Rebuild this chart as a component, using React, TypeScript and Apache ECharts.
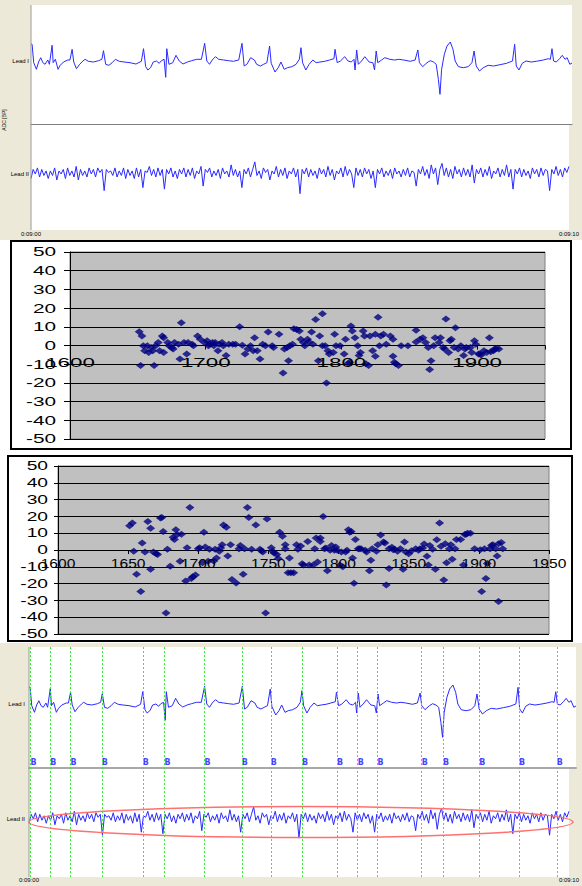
import React, { useEffect, useRef } from 'react';
import * as echarts from 'echarts';

// ---------- data ----------
const timeLabels = ['0:09:00', '0:09:10'];
const leadNames = ['Lead I', 'Lead II'];
const sideTitle = 'ADC [BP]';

// Lead I: [seconds, amplitude]
const leadI: number[][] = [
  [0, 17], [0.02, 16.7], [0.05, -1.7], [0.1, -8.3], [0.14, -1], [0.18, 3.3], [0.22, -1.7], [0.26, -3.3], [0.31, 1], [0.34, -3.3],
  [0.39, 15.7], [0.41, -1.7], [0.45, 1.7], [0.5, -8.3], [0.54, -4.3], [0.6, -1], [0.68, 1], [0.72, 1], [0.76, 11.7], [0.79, -1],
  [0.84, -7.7], [0.9, -3.3], [0.96, 0], [1.0, 1.7], [1.06, -0.3], [1.15, -1], [1.25, 0.3], [1.31, 1.7], [1.34, 10.3], [1.38, -3.3],
  [1.44, -4.3], [1.5, -1.7], [1.56, 1.7], [1.63, -0.3], [1.72, -1], [1.83, -1.7], [1.94, -3], [2.04, -0.3], [2.08, 12.3], [2.12, -5.7],
  [2.16, -9], [2.21, -6.7], [2.26, -1], [2.32, 0], [2.37, -2.3], [2.41, 0.3], [2.46, 1.7], [2.49, -16.3], [2.51, 12.3], [2.55, -3.3],
  [2.62, -1.7], [2.68, 5.7], [2.74, 0], [2.81, -3], [2.89, -1], [2.97, 0.3], [3.06, 1.7], [3.15, 1.7], [3.21, 17.7], [3.25, 0],
  [3.3, -3.3], [3.35, 1], [3.41, 4.3], [3.47, 1.7], [3.56, 1], [3.65, 0.3], [3.74, -0.3], [3.84, 1], [3.9, 17.7], [3.94, -5],
  [3.99, -3.3], [4.06, 3.3], [4.13, 1], [4.17, -3.3], [4.24, -5], [4.3, -3.3], [4.36, -1.7], [4.41, 15], [4.44, -2.3], [4.51, -11],
  [4.57, -6.7], [4.62, -1], [4.68, -8.3], [4.74, -6.7], [4.82, -5.7], [4.9, -3.3], [4.96, 1.7], [4.99, 13.3], [5.02, -1.7], [5.08, -9],
  [5.14, -3.3], [5.21, 1], [5.27, -1.7], [5.34, -1], [5.43, -0.3], [5.52, 1], [5.6, 2.3], [5.62, 11.7], [5.66, -1.7], [5.72, 0],
  [5.8, 4.3], [5.86, 0], [5.92, -1], [5.97, 1.7], [5.99, -9], [6.02, 11], [6.05, -3.3], [6.11, 0], [6.17, 4.3], [6.25, -1],
  [6.32, -1.7], [6.35, -9], [6.38, 10], [6.41, -1.7], [6.48, 1], [6.54, 3.3], [6.63, 1.7], [6.72, 1], [6.8, 1.7], [6.89, 1],
  [7.01, -0.3], [7.1, 1], [7.15, 11], [7.18, -1.7], [7.24, -5.7], [7.32, -1.7], [7.38, 0.3], [7.44, -1], [7.49, -3.3], [7.53, -18.3],
  [7.56, -33.3], [7.59, -8.3], [7.64, 6.7], [7.69, 15], [7.75, 19], [7.8, 11.7], [7.84, 0], [7.9, -5.7], [7.99, -6.7], [8.08, -5.7],
  [8.15, -1.7], [8.19, 10], [8.23, -5], [8.29, -10], [8.36, -6.7], [8.45, -4.3], [8.55, -5], [8.67, -3.7], [8.79, -2.3], [8.9, 0],
  [8.94, 16.7], [8.97, -5], [9.02, -9], [9.08, -2.3], [9.15, 0], [9.25, -1], [9.34, -0.3], [9.47, 1], [9.56, 2.3], [9.6, 1.7],
  [9.63, 12.3], [9.66, 0], [9.71, -1], [9.77, 2.3], [9.82, 5.7], [9.87, 1.7], [9.91, 3.3], [9.96, -3.3], [10, -2],
];

// Lead II: samples every 0.04 s
const leadIIStep = 0.04;
const leadIISamples: number[] = [
  -3, 3, 0, 4, -2, 3, -1, 2, -3, 2, -1, 4, -4, 2, 0, 3, -3, 4, -1, 2, -2, 5, -4, 3, -1,
  2, -2, 4, 0, 3, -2, 4, 1, 3, -11, 3, 1, 2, -1, 4, -2, 2, -1, 4, -3, 3, -1, 2, -3, 4,
  -2, 3, -9, 2, 1, 5, -1, 3, -2, 4, -1, 3, -10, 3, 0, 4, -2, 2, -3, 3, 0, 4, -2, 3, -1,
  4, -3, 2, 0, 5, -8, 3, 1, 4, -2, 2, -1, 3, -3, 4, 0, 2, -2, 6, -1, 3, -2, 2, -9, 3,
  0, 4, -2, 3, 8, -1, 2, -3, 4, 1, 3, -4, 2, 0, 5, -2, 3, -1, 4, -3, 2, 0, 4, -2, 3,
  -13, 3, 0, 4, -2, 3, -1, 2, -3, 4, 0, 3, -2, 5, -1, 3, -4, 2, 0, 4, -2, 5, -1, 3, 0,
  -9, 4, -1, 3, -2, 4, 0, 3, -3, 2, -9, 3, 0, 4, -2, 2, -1, 3, -3, 4, 0, 2, -2, 3, -1,
  4, -2, 2, 1, -8, 3, 0, 5, -1, 3, -3, 6, 0, 4, -7, 3, 7, -1, 4, -2, 3, -3, 5, 0, 3,
  -2, 4, -1, 3, -2, 6, -6, 3, 0, 4, -2, 3, -1, 5, -3, 2, 0, 4, -2, 3, -1, 6, -2, 3, -10,
  3, 0, 4, -2, 3, -1, 2, -3, 4, 0, 3, -2, 4, -1, 3, 2, -11, 3, 0, 5, -1, 3, -2, 4, 1, 5,
];

// Detected beats (seconds)
const beatTimes = [0.03, 0.39, 0.76, 1.33, 2.08, 2.48, 3.21, 3.89, 4.42, 4.99, 5.63, 6.01, 6.37, 7.18, 7.57, 8.23, 8.96, 9.65];
const beatLabel = 'B';

// Scatter plot A
const scatterA: number[][] = [
  [1651, 7.4], [1653, 5.1], [1652, -10.7], [1654, -0.2], [1655, -2.8], [1657, -0.2], [1658, -3.7], [1660, -1.1], [1661, -2.8], [1662, -10.7],
  [1663, -0.2], [1665, 1.6], [1666, -2.8], [1668, 5.1], [1669, 4.2], [1669, -3.7], [1672, 1.6], [1673, -0.2], [1675, -1.1], [1676, -1.9],
  [1677, 1.6], [1680, 0.7], [1682, 12.1], [1681, -7.2], [1684, 1.6], [1686, -4.6], [1687, 1.6], [1690, 0.7], [1691, -0.2], [1694, 5.1],
  [1696, 3.3], [1699, 1.6], [1701, 2.5], [1702, -0.2], [1703, 0.7], [1705, 1.6], [1706, -0.2], [1707, 1.6], [1709, -2.8], [1710, 0.7],
  [1712, 1.6], [1713, -0.2], [1715, -5.4], [1717, 0.7], [1720, 0.7], [1722, 0.7], [1725, 10], [1727, 0.2], [1729, -4.6], [1731, -1.9],
  [1733, -0.2], [1735, -2.8], [1736, 4.2], [1738, -2.8], [1740, -7.2], [1742, 0.7], [1744, -0.2], [1746, 7.2], [1749, -0.2], [1750, -1.1],
  [1754, 6], [1757, -14.7], [1758, -1.9], [1760, -1.1], [1761, -8.1], [1762, -0.2], [1764, 0.7], [1765, 8.9], [1767, 8.6], [1769, 7.7],
  [1770, 3.3], [1772, 1.6], [1773, -0.2], [1775, 3.3], [1776, 1.9], [1778, 7.2], [1779, 0.7], [1781, 13.9], [1783, -8.1], [1784, 5.1],
  [1786, -0.2], [1786, 17], [1788, -0.2], [1789, -20], [1790, -2.8], [1791, -4.6], [1794, -3.7], [1795, 6], [1796, -0.2], [1799, -0.2],
  [1802, -4.6], [1803, 3.3], [1805, -9.8], [1806, -8.9], [1807, 10.4], [1808, 7.7], [1810, 4.2], [1812, -0.2], [1813, -5.4], [1814, -3.7],
  [1816, 7.7], [1817, 5.1], [1818, -9.8], [1820, -10.7], [1821, 5.1], [1823, -2.8], [1825, -5.8], [1825, 6], [1827, 15.1], [1828, -0.2],
  [1829, 5.1], [1831, 6], [1833, 0.7], [1836, 5.1], [1838, 3.3], [1838, -5.8], [1839, -8.9], [1840, -9.8], [1842, -10.7], [1844, -0.2],
  [1849, -0.2], [1855, 8.1], [1855, 1.9], [1858, 3.3], [1860, 4.2], [1862, 1.6], [1864, -1.1], [1865, -12.8], [1866, -8.1], [1868, -0.2],
  [1869, 4.2], [1872, 1.6], [1873, 4.2], [1875, -1.1], [1876, -1.9], [1877, 14.2], [1879, -3.7], [1880, 2.5], [1881, 3.3], [1883, -1.1],
  [1884, 9.5], [1886, -1.9], [1888, -0.2], [1890, -5.4], [1891, -1.9], [1892, -1.1], [1895, -1.1], [1896, -3.7], [1898, 2.5], [1899, 0.7],
  [1901, -4.6], [1902, -4.6], [1903, -5.1], [1905, -2.8], [1907, -3.7], [1909, 4.2], [1910, -3.3], [1912, -2.8], [1913, -1.9], [1914, -1.6],
  [1916, -1.9],
];

// Scatter plot B
const scatterB: number[][] = [
  [1651, 14.5], [1653, 16.1], [1654, -0.8], [1656, -14.5], [1659, -24.7], [1660, 4.1], [1662, -1.2], [1664, 16.9], [1666, 12.9], [1666, -11.4],
  [1668, -1.2], [1670, -2.2], [1671, -2.7], [1673, 19], [1674, 19.4], [1675, 11], [1677, -37.5], [1678, 0.4], [1680, -9.6], [1682, 7.6],
  [1683, 6.3], [1684, 12], [1685, 9.2], [1687, -6.7], [1688, 9.4], [1691, -18.4], [1692, 1.4], [1694, 25.3], [1695, -16.9], [1696, -15.9],
  [1698, -14.9], [1700, 0.8], [1701, 1.4], [1703, -7.6], [1704, 10.6], [1705, 1.8], [1707, -6.7], [1708, 0.4], [1711, -6.5], [1712, 0.4],
  [1713, -4.7], [1715, -0.8], [1716, 1.2], [1717, 3.1], [1718, 14.9], [1720, 13.5], [1721, -3.5], [1723, 3.1], [1724, -17.5], [1727, -19.6],
  [1729, 0.8], [1730, 2.7], [1732, -14.5], [1733, 0.8], [1735, 25.3], [1736, 19.4], [1738, 0.4], [1741, 14.9], [1744, 0.4], [1745, -0.4],
  [1746, -1.2], [1748, -37.5], [1749, 18.4], [1752, 1.4], [1753, -0.8], [1754, -1.8], [1756, -2.7], [1757, -5.1], [1758, 10.6], [1760, 8.2],
  [1762, 0.8], [1762, 3.1], [1764, -13.5], [1765, -4.7], [1766, -13.5], [1768, -13.5], [1770, 3.1], [1771, 0.4], [1773, 2.4], [1774, -8.2],
  [1775, -9], [1778, 5.1], [1779, -9], [1782, -9], [1783, 0.8], [1784, 7.1], [1785, -7.1], [1787, 7.1], [1787, 5.1], [1789, 20],
  [1790, 0.8], [1791, 1.2], [1792, -12.4], [1794, -0.2], [1795, 2.7], [1797, -0.2], [1798, 1.8], [1799, -0.2], [1801, -9], [1802, -1.2],
  [1803, -10], [1805, -1.2], [1806, -0.2], [1807, 12], [1808, 10.6], [1809, 11], [1810, -4.7], [1811, -19.8], [1812, 6.3], [1814, 0.8],
  [1815, 0.8], [1816, 0.8], [1819, -0.2], [1820, -1.2], [1822, -12.4], [1823, -6.1], [1824, 0.8], [1827, -0.8], [1828, 3.1], [1830, 9],
  [1832, 4.7], [1833, 4.1], [1834, -20.8], [1836, -11], [1836, 0.8], [1838, 1.6], [1839, 0.2], [1840, 0.4], [1842, -0.8], [1844, 0.8],
  [1846, -11.4], [1847, 4.7], [1848, -1.2], [1850, -2.2], [1852, -0.4], [1855, 0.8], [1857, -0.2], [1858, 0.8], [1860, 1.2], [1861, 3.5],
  [1863, -3.7], [1864, -9], [1865, 2.7], [1867, 0.4], [1869, -11.4], [1870, 6.1], [1872, 16.1], [1873, 2.2], [1875, -17.8], [1876, 3.7],
  [1877, -7.6], [1879, 0.8], [1880, 3.1], [1881, -5.5], [1883, 0.8], [1884, 6.3], [1887, 6.3], [1889, -9], [1890, 9.2], [1891, 9.4],
  [1892, 10], [1894, 10], [1897, 0.8], [1901, 0.2], [1902, -24.7], [1904, 0.8], [1905, -16.9], [1906, -8], [1908, 0.8], [1909, 2.7],
  [1910, 3.1], [1912, 0.8], [1913, -3.5], [1914, -30.6], [1914, 3.7], [1916, 4.5], [1917, 0.8],
];

const scatterAXTicks = [1600, 1700, 1800, 1900];
const scatterBXTicks = [1600, 1650, 1700, 1750, 1800, 1850, 1900, 1950];
const scatterYTicks = [50, 40, 30, 20, 10, 0, -10, -20, -30, -40, -50];

// ---------- styles ----------
const FONT = 'Liberation Sans';
const BEIGE = '#ece9d8';
const ECG_BLUE = '#2a2aff';
const NAVY = '#000080';
const B_LEVEL = 0.5;

export default function App() {
  const ref = useRef<HTMLDivElement>(null);

  useEffect(() => {
    const el = ref.current;
    if (!el) return;
    const chart = echarts.init(el, null, { renderer: 'svg', width: 582, height: 886 });

    const leadIIData = leadIISamples.map((v, i) => [Number((i * leadIIStep).toFixed(2)), v]);

    const ecgGrid = (left: number, top: number, width: number, height: number) => ({
      left, top, width, height, show: true, backgroundColor: '#ffffff', borderWidth: 0,
    });
    const scGrid = (left: number, top: number, width: number, height: number) => ({
      left, top, width, height, show: true, backgroundColor: '#c0c0c0', borderColor: '#808080', borderWidth: 1,
    });

    const sepX = (gridIndex: number, color: string, width: number) => ({
      type: 'value', gridIndex, min: 0, max: 10, interval: 10, position: 'bottom',
      axisLine: { show: true, onZero: false, lineStyle: { color, width } },
      axisTick: { show: false }, axisLabel: { show: false }, splitLine: { show: false },
    });
    const timeX = (gridIndex: number, margin: number) => ({
      type: 'value', gridIndex, min: 0, max: 10, interval: 10, position: 'bottom',
      axisLine: { show: false }, axisTick: { show: false }, splitLine: { show: false },
      axisLabel: {
        show: true, fontSize: 6, fontFamily: FONT, color: '#000', margin,
        showMinLabel: true, showMaxLabel: true,
        formatter: (v: number) => (v === 0 ? timeLabels[0] : v === 10 ? timeLabels[1] : ''),
      },
    });
    const scX = (gridIndex: number, interval: number) => ({
      type: 'value', gridIndex, min: 1600, max: 1950, interval,
      axisLine: { show: true, onZero: true, lineStyle: { color: '#000', width: 1 } },
      axisTick: { show: true, length: 4, lineStyle: { color: '#000' } },
      axisLabel: { show: false }, splitLine: { show: false },
    });
    const leadY = (gridIndex: number, min: number, max: number, name: string, margin: number) => ({
      type: 'value', gridIndex, min, max, interval: -min,
      axisLine: { show: false }, axisTick: { show: false }, splitLine: { show: false },
      axisLabel: {
        show: true, fontSize: 6, fontFamily: FONT, color: '#000', margin,
        formatter: (v: number) => (v === 0 ? name : ''),
      },
    });
    const scY = (gridIndex: number, tickLen: number) => ({
      type: 'value', gridIndex, min: -50, max: 50, interval: 10,
      axisLine: { show: true, onZero: false, lineStyle: { color: '#000', width: 1 } },
      axisTick: { show: true, length: tickLen, lineStyle: { color: '#000' } },
      axisLabel: { show: false },
      splitLine: { show: true, lineStyle: { color: '#000', width: 1 } },
    });

    const ecgLine = (xi: number, data: number[][]) => ({
      type: 'line', xAxisIndex: xi, yAxisIndex: xi, data, showSymbol: false, symbol: 'none',
      lineStyle: { color: ECG_BLUE, width: 1 }, silent: true, z: 3,
    });
    const scSeries = (xi: number, data: number[][]) => ({
      type: 'scatter', xAxisIndex: xi, yAxisIndex: xi, data, symbol: 'diamond', symbolSize: [9, 7],
      itemStyle: { color: NAVY }, silent: true, z: 3,
    });

    chart.setOption({
      animation: false,
      grid: [
        ecgGrid(31, 5, 541, 119),
        ecgGrid(31, 124, 541, 106),
        scGrid(70, 252, 475, 187),
        scGrid(58, 466, 491, 168),
        ecgGrid(29, 647, 547, 121),
        ecgGrid(29, 768, 547, 109),
        { left: 29, top: 647, width: 547, height: 230, show: false },
      ],
      xAxis: [
        sepX(0, '#808080', 1),
        timeX(1, 1),
        scX(2, 100),
        scX(3, 50),
        sepX(4, '#a8a8a8', 2),
        timeX(5, 0),
        { type: 'value', gridIndex: 6, min: 0, max: 10, show: false },
      ],
      yAxis: [
        leadY(0, -63, 56, leadNames[0], 2),
        leadY(1, -37, 33, leadNames[1], 2),
        scY(2, 6),
        scY(3, 4),
        leadY(4, -64, 57, leadNames[0], 4),
        leadY(5, -39, 34, leadNames[1], 4),
        { type: 'value', gridIndex: 6, min: 0, max: 1, show: false },
      ],
      series: [
        ecgLine(0, leadI),
        ecgLine(1, leadIIData),
        scSeries(2, scatterA),
        scSeries(3, scatterB),
        ecgLine(4, leadI),
        ecgLine(5, leadIIData),
        {
          type: 'scatter', xAxisIndex: 6, yAxisIndex: 6, silent: true, z: 4,
          data: beatTimes.map((t) => [t, B_LEVEL]),
          symbol: 'circle', symbolSize: 1, itemStyle: { color: 'rgba(0,0,0,0)' },
          label: {
            show: true, formatter: beatLabel, position: 'inside', offset: [3, 0],
            color: '#1010ff', fontSize: 8, fontWeight: 'bold', fontFamily: 'DejaVu Sans',
          },
          markLine: {
            silent: true, symbol: ['none', 'none'], label: { show: false },
            lineStyle: { color: '#33ee33', type: [2, 2], width: 1 },
            data: beatTimes.map((t) => ({ xAxis: t })),
          },
        },
      ],
    });

    // axis tick labels for the two scatter panels (stretched text like the source)
    const labels: any[] = [];
    const txt = (x: number, y: number, text: string, size: number, scaleX: number, align: string) => ({
      type: 'text', x, y, scaleX, z: 100,
      style: { text, fontSize: size, fontFamily: FONT, fill: '#000', align, verticalAlign: 'middle' },
    });
    const px = (g: number, p: number[]) => chart.convertToPixel({ gridIndex: g } as any, p) as number[];

    scatterYTicks.forEach((v) => {
      const p = px(2, [1600, v]);
      labels.push(txt(p[0] - 14, p[1], String(v), 13, 1.6, 'right'));
    });
    const zeroA = px(2, [1600, 0])[1];
    scatterAXTicks.forEach((v) => {
      const p = px(2, [v, 0]);
      labels.push(txt(p[0], zeroA + 17, String(v), 13, 1.72, 'center'));
    });
    scatterYTicks.forEach((v) => {
      const p = px(3, [1600, v]);
      labels.push(txt(p[0] - 10, p[1], String(v), 12, 1.6, 'right'));
    });
    const zeroB = px(3, [1600, 0])[1];
    scatterBXTicks.forEach((v) => {
      const p = px(3, [v, 0]);
      labels.push(txt(p[0], zeroB + 14, String(v), 12, 1.3, 'center'));
    });

    chart.setOption({
      graphic: [
        { type: 'rect', z: -1, shape: { x: 0, y: 0, width: 582, height: 240 }, style: { fill: BEIGE } },
        { type: 'rect', z: -1, shape: { x: 0, y: 643, width: 582, height: 243 }, style: { fill: BEIGE } },
        { type: 'rect', z: -1, shape: { x: 11, y: 241, width: 560, height: 208 }, style: { fill: '#fff', stroke: '#000', lineWidth: 2 } },
        { type: 'rect', z: -1, shape: { x: 8, y: 456, width: 564, height: 185 }, style: { fill: '#fff', stroke: '#000', lineWidth: 2 } },
        { type: 'line', z: 50, shape: { x1: 31, y1: 5, x2: 31, y2: 230 }, style: { stroke: '#9a9a9a', lineWidth: 1 } },
        { type: 'line', z: 50, shape: { x1: 29, y1: 647, x2: 29, y2: 877 }, style: { stroke: '#9a9a9a', lineWidth: 1 } },
        {
          type: 'text', z: 100, x: 4, y: 120, rotation: Math.PI / 2,
          style: { text: sideTitle, fontSize: 5, fontFamily: FONT, fill: '#000', align: 'center', verticalAlign: 'middle' },
        },
        { type: 'ellipse', z: 100, shape: { cx: 301, cy: 822, rx: 272, ry: 15.5 }, style: { fill: 'none', stroke: '#ff7070', lineWidth: 1.5 } },
        ...labels,
      ],
    });

    return () => chart.dispose();
  }, []);

  return <div ref={ref} style={{ position: 'absolute', left: 0, top: 0, width: 582, height: 886 }} />;
}
